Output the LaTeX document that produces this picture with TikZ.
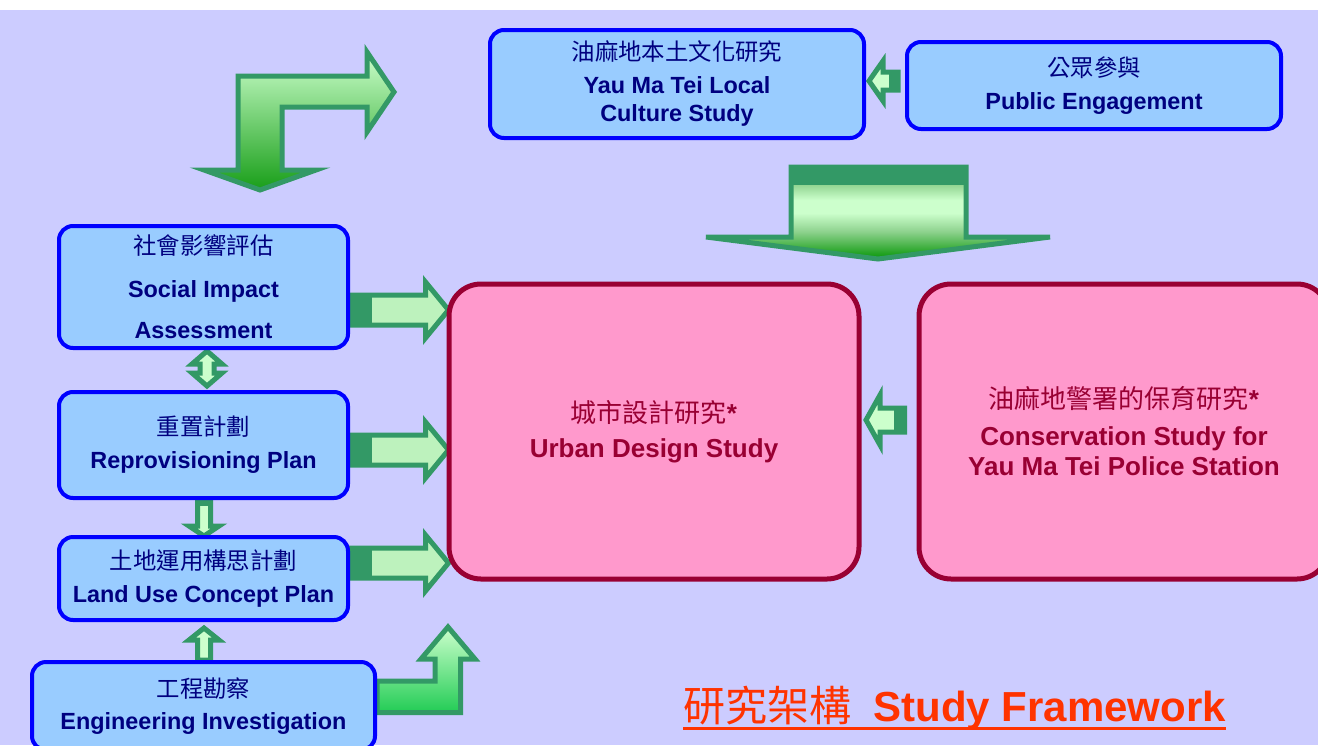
\documentclass[tikz,border=0pt]{standalone}
\usepackage{fontspec}
\setmainfont{Liberation Sans}
\newfontfamily\cjk{Noto Sans CJK TC}
\usetikzlibrary{calc, backgrounds}

\definecolor{bgcol}{HTML}{CCCCFF}
\definecolor{boxblue}{HTML}{0000FF}
\definecolor{boxfill}{HTML}{99CCFF}
\definecolor{navytext}{HTML}{000080}
\definecolor{pinkline}{HTML}{990033}
\definecolor{pinkfill}{HTML}{FF99CC}
\definecolor{titlered}{HTML}{FF3300}
\definecolor{arrline}{HTML}{339966}
\definecolor{arrlight}{HTML}{CCFFCC}
\definecolor{arrpale}{HTML}{BDF2BD}
\definecolor{arrmid}{HTML}{8ED28E}
\definecolor{arrdeep}{HTML}{189E18}
\definecolor{arrbright}{HTML}{22CC55}

% light band across the big arrow
\pgfdeclareverticalshading{bigdown}{100bp}{color(0bp)=(arrdeep); color(27bp)=(arrdeep);
  color(40bp)=(arrmid); color(50bp)=(arrlight); color(57bp)=(arrlight);
  color(66bp)=(arrmid); color(100bp)=(arrmid)}

\newcommand{\boxfont}{\fontsize{11.7}{14}\selectfont\bfseries}
\newcommand{\pinkfont}{\fontsize{13}{15}\selectfont\bfseries}
\newcommand{\zh}[1]{{\cjk\mdseries #1}}

% block arrow pointing right, from one box to another
\newcommand{\rblock}[3]{%
  \path (#1.east |- 0,#3) coordinate (rbt) (#2.west |- 0,#3) coordinate (rbh);
  \draw[blockarr, top color=arrpale, middle color=arrlight, bottom color=arrpale]
    ($(rbt)+(0,-15)$) -- ($(rbh)+(-21,-15)$) -- ($(rbh)+(-21,-28)$) -- ($(rbh)+(2,0)$)
    -- ($(rbh)+(-21,28)$) -- ($(rbh)+(-21,15)$) -- ($(rbt)+(0,15)$) -- cycle;
  \fill[arrline] ($(rbt)+(0,-15)$) rectangle ($(rbt)+(22,15)$);
}

\tikzset{
  bluebox/.style={draw=boxblue, fill=boxfill, line width=2pt, rounded corners=7pt,
    align=center, text=navytext, font=\boxfont, inner sep=0pt},
  pinkbox/.style={draw=pinkline, fill=pinkfill, line width=2.5pt, rounded corners=16pt,
    align=center, text=pinkline, font=\pinkfont, inner sep=0pt,
    minimum width=205pt, minimum height=147.5pt},
  blockarr/.style={draw=arrline, line width=2.5pt, line join=miter},
}

\begin{document}
\begin{tikzpicture}[x=0.5pt, y=-0.5pt]
  \useasboundingbox (0,0) rectangle (1318,745);

  % studies
  \node[bluebox, minimum width=187pt, minimum height=54pt] (ymtlcs) at (677,84)
    {\zh{油麻地本土文化研究}\\[2.5pt] Yau Ma Tei Local\\ Culture Study};
  \node[bluebox, minimum width=187pt, minimum height=43.5pt] (pe) at (1094,85.5)
    {\zh{公眾參與}\\[2.5pt] Public Engagement};
  \node[bluebox, minimum width=144.5pt, minimum height=61pt] (sia) at (203.5,287)
    {\zh{社會影響評估}\\[7.5pt] Social Impact\\[6.5pt] Assessment};
  \node[bluebox, minimum width=144.5pt, minimum height=53pt] (rp) at (203.5,445)
    {\zh{重置計劃}\\[2.5pt] Reprovisioning Plan};
  \node[bluebox, minimum width=144.5pt, minimum height=41.5pt] (lucp) at (203.5,578.5)
    {\zh{土地運用構思計劃}\\[2.5pt] Land Use Concept Plan};
  \node[bluebox, minimum width=171.5pt, minimum height=44pt] (ei) at (203.5,706)
    {\zh{工程勘察}\\[2pt] Engineering Investigation};
  \node[pinkbox] (uds) at (654,431.5)
    {\zh{城市設計研究}*\\[2.5pt] Urban Design Study};
  \node[pinkbox] (csymtps) at (1124,431.5)
    {\zh{油麻地警署的保育研究}*\\[3.5pt] Conservation Study for\\ Yau Ma Tei Police Station};

  % title
  \node[anchor=base west, inner sep=0pt, text=titlered, font=\fontsize{21}{24}\selectfont]
    (sf) at (683,721) {\zh{研究架構}\hspace{11pt}\textbf{Study Framework}};
  \draw[titlered, line width=1.5pt] ([yshift=-3.5pt]sf.base west) -- ([yshift=-3.5pt]sf.base east);

  \begin{scope}[on background layer]
    \fill[white] (0,0) rectangle (1318,10);
    \fill[bgcol] (0,10) rectangle (1318,745);

    % bent arrow, top left
    \draw[blockarr, top color=arrlight, bottom color=arrdeep]
      (260,190) -- (204,170) -- (238,170) -- (238,76) -- (367,76) -- (367,52)
      -- (394,92) -- (367,132) -- (367,107) -- (282,107) -- (282,170)
      -- (316,170) -- cycle;

    % big arrow down onto the design studies
    \draw[blockarr, shading=bigdown]
      (791,167) -- (966,167) -- (966,237) -- (1050,237) -- (878,259)
      -- (706,237) -- (791,237) -- cycle;
    \fill[arrline] (791,167) rectangle (966,185);

    % public engagement to local culture study
    \path (pe.west |- 0,81) coordinate (pet) (ymtlcs.east |- 0,81) coordinate (peh);
    \draw[blockarr, fill=arrlight]
      ($(pet)+(-7,-9)$) -- ($(peh)+(17,-9)$) -- ($(peh)+(17,-20)$) -- ($(peh)+(3,0)$)
      -- ($(peh)+(17,20)$) -- ($(peh)+(17,9)$) -- ($(pet)+(-7,9)$) -- cycle;
    \fill[arrline] ($(pet)+(-16,-9)$) rectangle ($(pet)+(-7,9)$);

    % conservation study to urban design study
    \path (csymtps.west |- 0,420) coordinate (cst) (uds.east |- 0,420) coordinate (csh);
    \draw[blockarr, fill=arrlight]
      ($(cst)+(-12,-12)$) -- ($(csh)+(18.5,-12)$) -- ($(csh)+(18.5,-25)$) -- ($(csh)+(4.5,0)$)
      -- ($(csh)+(18.5,25)$) -- ($(csh)+(18.5,12)$) -- ($(cst)+(-12,12)$) -- cycle;
    \fill[arrline] ($(cst)+(-23,-12)$) rectangle ($(cst)+(-12,12)$);

    % left column into urban design study
    \rblock{sia}{uds}{310}
    \rblock{rp}{uds}{450}
    \rblock{lucp}{uds}{563}

    % between the left boxes
    \path (207,0 |- sia.south) coordinate (dbt) (207,0 |- rp.north) coordinate (dbb);
    \draw[blockarr, fill=arrlight]
      ($(dbt)+(0,1)$) -- ($(dbt)+(15,14)$) -- ($(dbt)+(7,14)$) -- ($(dbb)+(7,-17)$)
      -- ($(dbb)+(15,-17)$) -- ($(dbb)+(0,-4)$) -- ($(dbb)+(-15,-17)$) -- ($(dbb)+(-7,-17)$)
      -- ($(dbt)+(-7,14)$) -- ($(dbt)+(-15,14)$) -- cycle;
    \path (204,0 |- rp.south) coordinate (rpt) (204,0 |- lucp.north) coordinate (rph);
    \draw[blockarr, fill=arrlight]
      ($(rpt)+(-6.5,0)$) -- ($(rpt)+(6.5,0)$) -- ($(rph)+(6.5,-9)$) -- ($(rph)+(15,-9)$)
      -- ($(rph)+(0,1)$) -- ($(rph)+(-15,-9)$) -- ($(rph)+(-6.5,-9)$) -- cycle;
    \fill[arrline] ($(rpt)+(-6.5,0)$) rectangle ($(rpt)+(6.5,6)$);
    \path (204,0 |- ei.north) coordinate (eit) (204,0 |- lucp.south) coordinate (eih);
    \draw[blockarr, fill=arrlight]
      ($(eih)+(0,6)$) -- ($(eih)+(15,18)$) -- ($(eih)+(6.5,18)$) -- ($(eit)+(6.5,0)$)
      -- ($(eit)+(-6.5,0)$) -- ($(eih)+(-6.5,18)$) -- ($(eih)+(-15,18)$) -- cycle;

    % bent arrow, bottom
    \draw[blockarr, top color=arrlight, bottom color=arrbright]
      (ei.east |- 0,681) -- (435,681) -- (435,659) -- (421,659) -- (448,627)
      -- (475,659) -- (460.5,659) -- (460.5,712.5) -- (ei.east |- 0,712.5) -- cycle;
  \end{scope}
\end{tikzpicture}
\end{document}
